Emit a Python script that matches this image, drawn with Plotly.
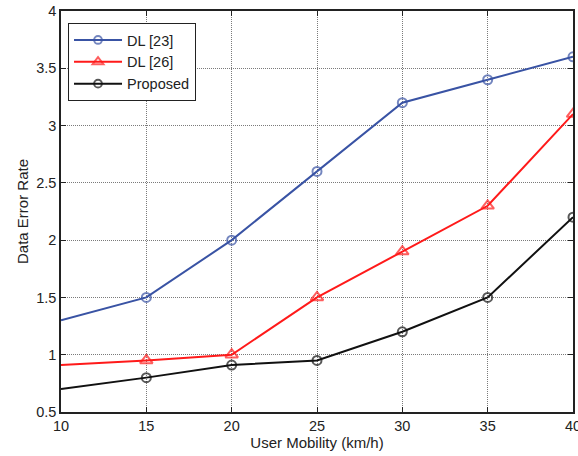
import plotly.graph_objects as go

mobility = [10, 15, 20, 25, 30, 35, 40]
dl23 = [1.3, 1.5, 2.0, 2.6, 3.2, 3.4, 3.6]
dl26 = [0.91, 0.95, 1.0, 1.5, 1.9, 2.3, 3.1]
proposed = [0.7, 0.8, 0.91, 0.95, 1.2, 1.5, 2.2]
x_ticks = [10, 15, 20, 25, 30, 35, 40]
y_ticks = [0.5, 1, 1.5, 2, 2.5, 3, 3.5, 4]
y_tick_labels = ["0.5", "1", "1.5", "2", "2.5", "3", "3.5", "4"]

series = [
    ("DL [23]", dl23, "#3953a4", "circle-open", 9),
    ("DL [26]", dl26, "#ff1a1a", "triangle-up-open", 11),
    ("Proposed", proposed, "#111111", "circle-open", 9),
]

fig = go.Figure()
for name, vals, col, sym, sz in series:
    sizes = [0] + [sz] * (len(vals) - 1)
    fig.add_trace(go.Scatter(
        x=mobility, y=vals, name=name, mode="lines+markers",
        line=dict(color=col, width=2),
        marker=dict(symbol=sym, size=sizes, color=col, line=dict(color=col, width=2)),
    ))

axis_common = dict(
    showline=True, linecolor="#222222", linewidth=1.5, mirror="ticks",
    ticks="inside", ticklen=5, tickcolor="#222222", ticklabeloverflow="allow",
    showgrid=True, gridcolor="#7a7a7a", gridwidth=1, griddash="1px,1px",
    zeroline=False, tickfont=dict(family="Liberation Sans, Arial", size=14.5, color="#222222"),
)

fig.update_layout(
    width=578, height=456,
    margin=dict(l=61, r=4.5, t=10.5, b=43.5),
    plot_bgcolor="white", paper_bgcolor="white",
    font=dict(family="Liberation Sans, Arial", size=13, color="#222222"),
    xaxis=dict(range=[10, 40], tickvals=x_ticks, automargin=False,
               title=dict(text="User Mobility (km/h)", standoff=2, font=dict(size=15)), **axis_common),
    yaxis=dict(range=[0.5, 4], tickvals=y_ticks, ticktext=y_tick_labels, automargin=False,
               title=dict(text="Data Error Rate", standoff=4, font=dict(size=15)), **axis_common),
    legend=dict(x=0.0137, y=0.97, xanchor="left", yanchor="top",
                bgcolor="white", bordercolor="#222222", borderwidth=1,
                font=dict(size=14.5), tracegroupgap=0, itemwidth=48),
    showlegend=True,
)

fig.write_html("out.html", config={"displayModeBar": False},
               post_script="document.body.style.margin='0';")
